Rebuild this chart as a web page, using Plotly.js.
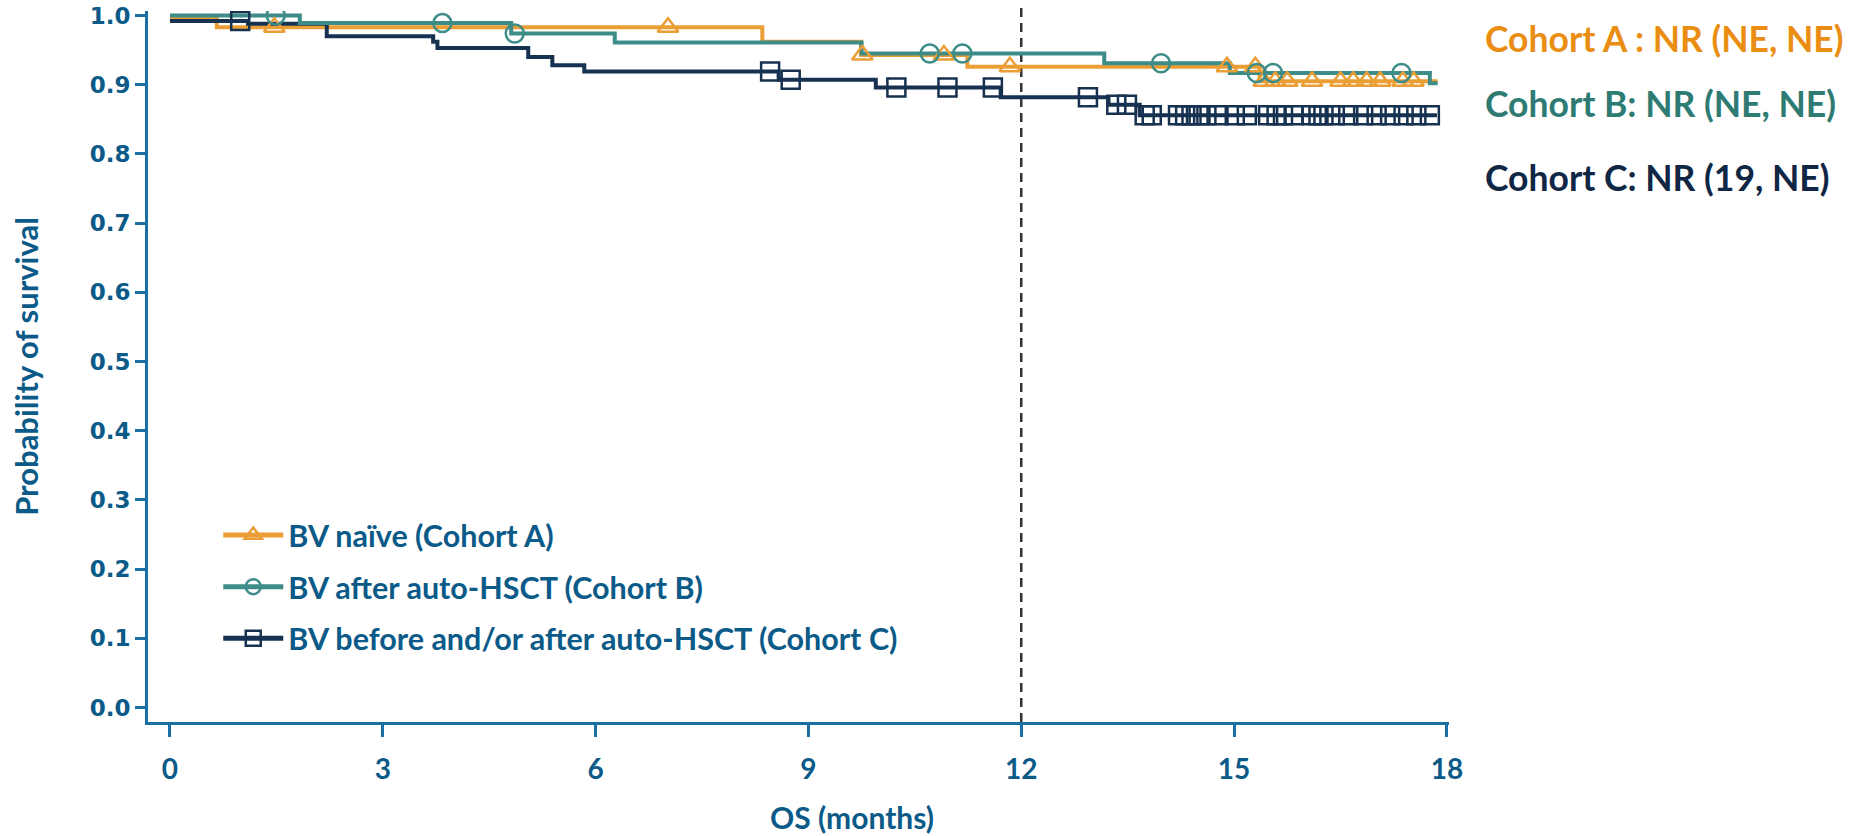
<!DOCTYPE html>
<html>
<head>
<meta charset="utf-8">
<script src="https://cdn.plot.ly/plotly-3.0.1.min.js"></script>
<style>
  html, body { margin: 0; padding: 0; background: #ffffff; }
  #chart { width: 1863px; height: 836px; }
</style>
</head>
<body>
<div id="chart"></div>
<script>
// ---------------- Data ----------------
// Kaplan-Meier step functions: time of each step (months) and survival after it
const timesA = [0, 0.66, 8.35, 9.74, 11.24, 15.36];
const survA  = [0.997, 0.983, 0.962, 0.943, 0.926, 0.905];
const endA   = 17.87;
const censorA = [1.47, 7.02, 9.76, 10.91, 11.84, 14.90, 15.30, 15.42, 15.58, 15.75,
                 16.10, 16.50, 16.68, 16.87, 17.06, 17.38, 17.53];

const timesB = [0, 1.83, 4.81, 6.27, 9.75, 13.17, 14.94, 17.76];
const survB  = [1.0, 0.989, 0.974, 0.961, 0.945, 0.931, 0.917, 0.902];
const endB   = 17.87;
const censorB = [1.49, 3.84, 4.86, 10.71, 11.17, 13.97, 15.32, 15.55, 17.36];

const timesC = [0, 1.10, 2.21, 3.71, 3.77, 5.05, 5.39, 5.84, 8.58, 9.95, 11.71, 13.23, 13.67];
const survC  = [0.992, 0.988, 0.970, 0.962, 0.953, 0.940, 0.928, 0.919, 0.907, 0.896, 0.882, 0.871, 0.856];
const endC   = 17.86;
const censorC = [0.99, 8.46, 8.75, 10.24, 10.96, 11.60, 12.94, 13.34, 13.49, 13.74, 13.84,
                 14.21, 14.31, 14.40, 14.50, 14.61, 14.78, 15.01, 15.18, 15.48, 15.60, 15.69,
                 15.84, 16.09, 16.19, 16.26, 16.42, 16.61, 16.82, 17.01, 17.20, 17.39, 17.57, 17.76];

const seriesNames = ['BV naïve (Cohort A)', 'BV after auto-HSCT (Cohort B)',
                     'BV before and/or after auto-HSCT (Cohort C)'];
const medianLabels = ['Cohort A : NR (NE, NE)', 'Cohort B: NR (NE, NE)', 'Cohort C: NR (19, NE)'];
const xTicks = [0, 3, 6, 9, 12, 15, 18];
const yTicks = [0.0, 0.1, 0.2, 0.3, 0.4, 0.5, 0.6, 0.7, 0.8, 0.9, 1.0];
const landmarkMonth = 12;

// ---------------- Styling ----------------
const lineColors = ['#EA9E35', '#3D8C88', '#173150'];
const labelColors = ['#E98E12', '#2D7B73', '#0F2644'];
const symbols = ['triangle-up-open', 'circle-open', 'square-open'];
const textBlue = '#0B5A88';
const axisBlue = '#1A6FA3';
const FONT = 'Lato, "Open Sans", sans-serif';

function stepAt(times, surv, t) {
  let s = surv[0];
  for (let i = 0; i < times.length; i++) if (times[i] <= t) s = surv[i];
  return s;
}

const groups = [
  {t: timesA, s: survA, end: endA, c: censorA},
  {t: timesB, s: survB, end: endB, c: censorB},
  {t: timesC, s: survC, end: endC, c: censorC}
];

const traces = [];
// draw order: A, C, B so the teal line lies on top like the reference
[0, 2, 1].forEach(function (k) {
  const g = groups[k];
  traces.push({
    type: 'scatter', mode: 'lines',
    x: g.t.concat([g.end]), y: g.s.concat([g.s[g.s.length - 1]]),
    line: {shape: 'hv', color: lineColors[k], width: 4},
    showlegend: false, hoverinfo: 'skip', legendgroup: 'g' + k
  });
});
[0, 2, 1].forEach(function (k) {
  const g = groups[k];
  traces.push({
    type: 'scatter', mode: 'markers',
    x: g.c, y: g.c.map(function (t) { return stepAt(g.t, g.s, t); }),
    marker: {symbol: symbols[k], size: 18, color: lineColors[k], line: {width: 2.5, color: lineColors[k]}},
    showlegend: false, legendgroup: 'g' + k
  });
});
// legend entries (line + marker)
[0, 1, 2].forEach(function (k) {
  traces.push({
    type: 'scatter', mode: 'lines+markers',
    x: [null], y: [null], name: seriesNames[k],
    line: {color: lineColors[k], width: 5},
    marker: {symbol: symbols[k], size: 15, color: lineColors[k], line: {width: 2.5, color: lineColors[k]}},
    legendgroup: 'g' + k, showlegend: true
  });
});

const annotations = medianLabels.map(function (txt, k) {
  return {
    text: txt, xref: 'paper', yref: 'paper', x: 1.026, xanchor: 'left',
    y: [0.962, 0.870, 0.766][k], yanchor: 'middle', showarrow: false,
    font: {family: FONT, size: 35.5, color: labelColors[k], weight: 700}
  };
});
annotations.push({
  text: 'OS (months)', xref: 'paper', yref: 'paper',
  x: (852 - 148) / 1301, xanchor: 'center', y: -0.134, yanchor: 'middle', showarrow: false,
  font: {family: FONT, size: 30, color: textBlue, weight: 700}
});

const layout = {
  width: 1863, height: 836,
  margin: {l: 148, r: 414, t: 11, b: 114},
  paper_bgcolor: '#ffffff', plot_bgcolor: '#ffffff',
  showlegend: true,
  legend: {
    x: 0.054, y: 0.3, xanchor: 'left', yanchor: 'top',
    bgcolor: 'rgba(0,0,0,0)', borderwidth: 0,
    font: {family: FONT, size: 30.5, color: textBlue, weight: 700},
    traceorder: 'grouped', tracegroupgap: 9, itemwidth: 60
  },
  xaxis: {
    range: [-0.31, 18.03], tickvals: xTicks, ticktext: xTicks.map(String),
    showgrid: false, zeroline: false, showline: true, linecolor: axisBlue, linewidth: 3,
    ticks: 'outside', ticklen: 12, tickwidth: 3, tickcolor: axisBlue,
    ticklabelstandoff: 8,
    tickfont: {family: FONT, size: 28, color: textBlue, weight: 700}
  },
  yaxis: {
    range: [-0.021, 1.0065], tickvals: yTicks, ticktext: yTicks.map(function (v) { return v.toFixed(1); }),
    showgrid: false, zeroline: false, showline: true, linecolor: axisBlue, linewidth: 3,
    ticks: 'outside', ticklen: 10, tickwidth: 3, tickcolor: axisBlue,
    tickfont: {family: '"DejaVu Sans", Verdana, sans-serif', size: 23, color: textBlue, weight: 700},
    title: {text: 'Probability of survival', standoff: 42,
            font: {family: FONT, size: 31, color: textBlue, weight: 700}}
  },
  shapes: [{
    type: 'line', xref: 'x', yref: 'paper', x0: landmarkMonth, x1: landmarkMonth, y0: 0, y1: 1.005,
    line: {color: '#333333', width: 2.5, dash: '9px,6px'}, layer: 'below'
  }],
  annotations: annotations
};

Plotly.newPlot('chart', traces, layout, {displayModeBar: false, staticPlot: true});
</script>
</body>
</html>
